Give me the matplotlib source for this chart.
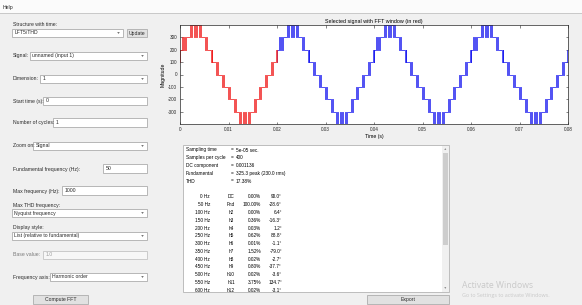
import numpy as np
import matplotlib
matplotlib.use("Agg")
import matplotlib.pyplot as plt
from matplotlib.patches import Rectangle, Polygon

W, H = 582, 305
plt.rcParams['font.family'] = ['Liberation Sans', 'DejaVu Sans']

# ---------------- data ----------------
# one fundamental cycle of the staircase (switching instants in s, new level)
cycle_times = [0.0000, 0.0001, 0.0004, 0.0006, 0.0008, 0.0011, 0.0013,
               0.0021, 0.0023, 0.0025, 0.0028, 0.0030, 0.0034, 0.0036, 0.0040, 0.0042, 0.0044,
               0.0051, 0.0053, 0.0055,
               0.0063, 0.0065, 0.0067,
               0.0075, 0.0077, 0.0079,
               0.0087, 0.0089, 0.0091,
               0.0099, 0.0101, 0.0103,
               0.0111, 0.0113, 0.0115,
               0.0122, 0.0124, 0.0126, 0.0129, 0.0131, 0.0135, 0.0137, 0.0141, 0.0143, 0.0145,
               0.0152, 0.0154, 0.0156,
               0.0163, 0.0165, 0.0167,
               0.0175, 0.0177, 0.0179,
               0.0187, 0.0189, 0.0191,
               0.0197, 0.0199]
cycle_levels = [100, 200, 300, 200, 300, 200, 300,
                400, 300, 400, 300, 400, 300, 400, 300, 400, 300,
                200, 300, 200,
                100, 200, 100,
                0, 100, 0,
                -100, 0, -100,
                -200, -100, -200,
                -300, -200, -300,
                -400, -300, -400, -300, -400, -300, -400, -300, -400, -300,
                -200, -300, -200,
                -100, -200, -100,
                0, -100, 0,
                100, 0, 100,
                200, 100]
period = 0.02
n_cycles = 4
fft_window_cycles = 1

x_ticks = [0, 0.01, 0.02, 0.03, 0.04, 0.05, 0.06, 0.07, 0.08]
x_tick_labels = ['0', '0.01', '0.02', '0.03', '0.04', '0.05', '0.06', '0.07', '0.08']
y_ticks = [-300, -200, -100, 0, 100, 200, 300]
y_tick_labels = ['-300', '-200', '-100', '0', '100', '200', '300']

info_labels = ["Sampling time", "Samples per cycle", "DC component", "Fundamental", "THD"]
info_values = ["5e-05 sec.", "400", "0.001136", "325.3 peak (230.0 rms)", "17.38%"]

harm_freqs = ["0 Hz", "50 Hz", "100 Hz", "150 Hz", "200 Hz", "250 Hz", "300 Hz",
              "350 Hz", "400 Hz", "450 Hz", "500 Hz", "550 Hz", "600 Hz"]
harm_names = ["DC", "Fnd", "h2", "h3", "h4", "h5", "h6", "h7", "h8", "h9", "h10", "h11", "h12"]
harm_mags = ["0.00%", "100.00%", "0.00%", "0.36%", "0.03%", "0.62%", "0.01%",
             "1.52%", "0.02%", "0.80%", "0.02%", "3.75%", "0.02%"]
harm_phases = ["90.0°", "-28.6°", "6.4°", "-16.3°", "1.2°", "88.8°", "-1.1°",
               "-79.0°", "-2.7°", "-37.7°", "-3.6°", "134.7°", "-3.1°"]

# ---------------- figure ----------------
fig = plt.figure(figsize=(W / 100, H / 100), dpi=100, facecolor='#f0f0f0')
ov = fig.add_axes([0, 0, 1, 1], zorder=0)
ov.set_xlim(0, W)
ov.set_ylim(H, 0)
ov.axis('off')

UI = 3.7
LBL = '#2a2a2a'


def box(x0, y0, x1, y1, fc='white', ec='#acacac', lw=0.6, z=2):
    ov.add_patch(Rectangle((x0, y0), x1 - x0, y1 - y0, facecolor=fc, edgecolor=ec, lw=lw, zorder=z))


def arrow(xc, yc, s=1.6, up=False):
    if up:
        pts = [(xc - s, yc + s * 0.6), (xc + s, yc + s * 0.6), (xc, yc - s * 0.6)]
    else:
        pts = [(xc - s, yc - s * 0.6), (xc + s, yc - s * 0.6), (xc, yc + s * 0.6)]
    ov.add_patch(Polygon(pts, closed=True, facecolor='#505050', edgecolor='none', zorder=4))


def label(x, y, s, **kw):
    kw.setdefault('fontsize', UI)
    kw.setdefault('color', LBL)
    ov.text(x, y, s, va='center', ha=kw.pop('ha', 'left'), zorder=5, **kw)


def dropdown(x0, y0, x1, y1, s):
    box(x0, y0, x1, y1)
    label(x0 + 2.5, (y0 + y1) / 2, s)
    arrow(x1 - 4.5, (y0 + y1) / 2, s=1.3)


def edit(x0, y0, x1, y1, s, disabled=False):
    box(x0, y0, x1, y1, fc='#f7f7f7' if disabled else 'white', ec='#c4c4c4' if disabled else '#acacac')
    label(x0 + 2.5, (y0 + y1) / 2, s, color='#a0a0a0' if disabled else LBL)


def button(x0, y0, x1, y1, s):
    box(x0, y0, x1, y1, fc='#e1e1e1', ec='#adadad')
    label((x0 + x1) / 2, (y0 + y1) / 2, s, ha='center')


# menu bar
ov.add_patch(Rectangle((0, 0), W, 12.5, facecolor='#fbfbfb', edgecolor='none', zorder=1))
ov.plot([0, W], [12.8, 12.8], color='#c8c8c8', lw=0.7, zorder=2)
label(3, 7.5, "Help", fontsize=3.8)

# left panel controls
label(13, 24.5, "Structure with time:")
dropdown(12, 29, 123, 37, "LFT5/THD")
button(127, 29, 147, 37, "Update")
label(13, 56, "Signal:")
dropdown(30, 52, 147, 60, "unnamed (input 1)")
label(13, 79, "Dimension:")
dropdown(40, 75, 147, 83, "1")
label(13, 101, "Start time (s):")
edit(43, 97, 147, 105, "0")
label(13, 122.5, "Number of cycles:")
edit(53, 118, 147, 127, "1")
label(13, 145.5, "Zoom on:")
dropdown(33, 142, 147, 150, "Signal")
label(13, 169, "Fundamental frequency (Hz):")
edit(103, 164, 147, 173, "50")
label(13, 191, "Max frequency (Hz):")
edit(62, 186, 147, 195, "1000")
label(13, 206, "Max THD frequency:")
dropdown(12, 209, 147, 217, "Nyquist frequency")
label(13, 228, "Display style:")
dropdown(12, 232, 147, 240, "List (relative to fundamental)")
label(13, 255, "Base value:", color='#7a7a7a')
edit(43, 251, 147, 259, "1.0", disabled=True)
label(13, 277, "Frequency axis:")
dropdown(50, 273, 147, 281, "Harmonic order")
button(33, 295, 88, 303.5, "Compute FFT")
button(367, 295, 449, 303.5, "Export")

# results list box
box(183, 145, 449, 292, fc='white', ec='#b4b4b4')
box(442, 145.5, 448.6, 291.5, fc='#f0f0f0', ec='none', lw=0)
box(443, 153, 447.6, 245, fc='#cdcdcd', ec='none', lw=0, z=3)
arrow(445.3, 149, s=1.0, up=True)
arrow(445.3, 288, s=1.0)

TXT = 3.4
line_y0, line_dy = 150.0, 7.8
for i, (a, b) in enumerate(zip(info_labels, info_values)):
    y = line_y0 + i * line_dy
    label(186, y, a, fontsize=TXT, color='black')
    label(232, y, "=", fontsize=TXT, color='black', ha='center')
    label(236, y, b, fontsize=TXT, color='black')

clip = Rectangle((183, 146), 259, 142.0, transform=ov.transData)
for j, (f, n, m, p) in enumerate(zip(harm_freqs, harm_names, harm_mags, harm_phases)):
    y = line_y0 + (6 + j) * line_dy
    for xx, s, ha in ((210, f, 'right'), (231, n, 'center'), (261, m, 'right'), (282, p, 'right')):
        t = ov.text(xx, y, s, fontsize=TXT, color='black', ha=ha, va='center', zorder=5)
        t.set_clip_path(clip)

# watermark
ov.text(462, 285, "Activate Windows", fontsize=6.2, color='#c9c9c9', family=['Open Sans', 'DejaVu Sans'],
        va='center', ha='left', zorder=5)
ov.text(462, 295, "Go to Settings to activate Windows.", fontsize=3.9, color='#c9c9c9',
        family=['Open Sans', 'DejaVu Sans'], va='center', ha='left', zorder=5)

# ---------------- signal plot ----------------
ax_l, ax_r, ax_t, ax_b = 180, 568, 25, 124
ax = fig.add_axes([ax_l / W, (H - ax_b) / H, (ax_r - ax_l) / W, (ax_b - ax_t) / H], zorder=3)
ax.set_facecolor('white')

ct = np.array(cycle_times)
cl = np.array(cycle_levels)
t_all = np.concatenate([ct + k * period for k in range(n_cycles)] + [[n_cycles * period]])
v_all = np.concatenate([cl for _ in range(n_cycles)] + [[cl[-1]]])

t_win = fft_window_cycles * period
blue_mask = t_all >= t_win
ax.step(t_all[blue_mask], v_all[blue_mask], where='post', color='#2020f0', lw=0.55)
# first cycle (FFT window) in red
red_idx = np.where(t_all < t_win)[0]
t_red = np.append(t_all[red_idx], t_win)
v_red = np.append(v_all[red_idx], v_all[red_idx][-1])
ax.step(t_red, v_red, where='post', color='#f02020', lw=0.55)

ax.set_xlim(0, 0.08)
ax.set_ylim(-400, 400)
ax.set_xticks(x_ticks)
ax.set_xticklabels(x_tick_labels)
ax.set_yticks(y_ticks)
ax.set_yticklabels(y_tick_labels)
ax.tick_params(direction='in', length=1.8, width=0.4, labelsize=3.3, pad=2.0,
               top=True, right=True, colors='#262626')
for sp in ax.spines.values():
    sp.set_linewidth(0.5)
    sp.set_color('#262626')
ax.set_title("Selected signal with FFT window (in red)", fontsize=3.9, pad=1.6, color='black')
ax.set_xlabel("Time (s)", fontsize=3.7, labelpad=1.5)
ax.set_ylabel("Magnitude", fontsize=3.7, labelpad=1.5)

fig.savefig("out.png", dpi=100, facecolor=fig.get_facecolor())
